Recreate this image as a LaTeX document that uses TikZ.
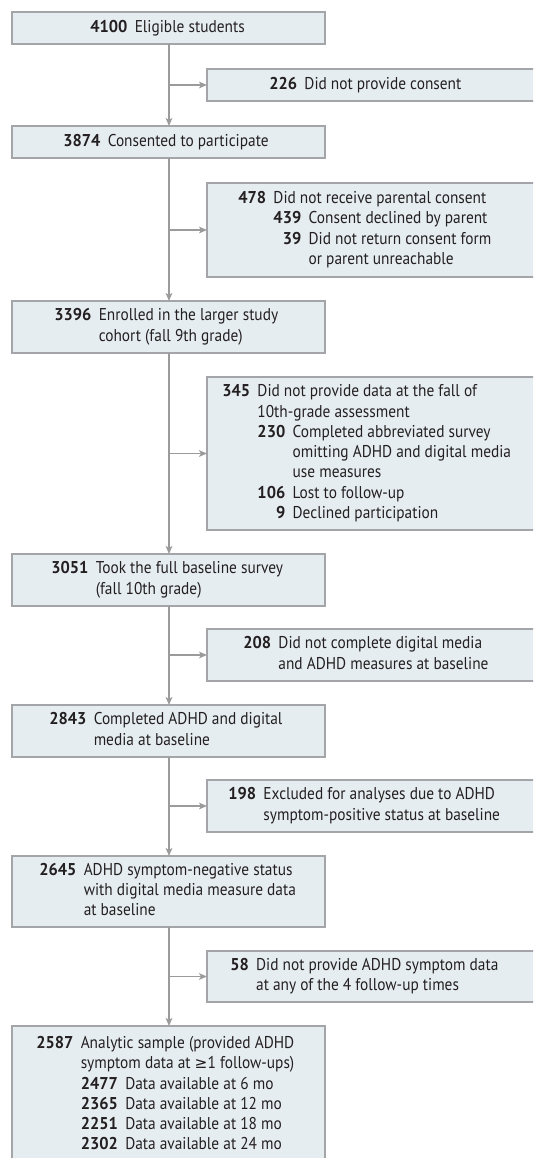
\documentclass[tikz,border=0pt]{standalone}
\usepackage{fontspec}
\setmainfont{PT Sans}[FakeStretch=0.9, BoldFeatures={FakeStretch=0.96}]
\newfontfamily\symfont{DejaVu Sans}[Scale=0.9]
\usetikzlibrary{arrows.meta}
\definecolor{boxfill}{HTML}{E6EDF1}
\definecolor{boxline}{HTML}{A3A5A8}
\definecolor{conn}{HTML}{9B9B9B}
\definecolor{ink}{HTML}{231F20}
\newcommand\bx[5]{\node[boxs, minimum width={(#4-#2)*0.75pt}, minimum height={(#5-#3)*0.75pt}] (#1) at ({(#2+#4)/2},{(#3+#5)/2}) {};}
\newcommand\tb[1]{\begin{tabular}{@{}r@{\hspace{5.5pt}}l@{}}#1\end{tabular}}
\newcommand\tbt[1]{\begin{tabular}[t]{@{}r@{\hspace{5.5pt}}l@{}}#1\end{tabular}}
\newcommand\nb[1]{\textbf{#1}}
\begin{document}
\begin{tikzpicture}[x=0.75pt,y=-0.75pt,
  boxs/.style={draw=boxline, fill=boxfill, line width=1pt, inner sep=0pt, outer sep=0pt},
  txt/.style={inner sep=0pt, anchor=west, text=ink, font=\fontsize{12.8}{15.2}\selectfont},
  flow/.style={draw=conn, line width=1.1pt, -{Stealth[length=6pt,width=5pt,inset=1.5pt]}}]
\useasboundingbox (0,0) rectangle (533,1158);
\clip (0,0) rectangle (533,1158);
% boxes
\bx{L1}{12}{12}{325}{44}
\bx{R1}{207}{69}{545}{101}
\bx{L2}{12}{126}{325}{158}
\bx{R2}{207}{183}{545}{277}
\bx{L3}{12}{301}{325}{353}
\bx{R3}{207}{377}{545}{530}
\bx{L4}{12}{554}{325}{606}
\bx{R4}{207}{629}{545}{681}
\bx{L5}{12}{705}{325}{757}
\bx{R5}{207}{780}{545}{832}
\bx{L6}{12}{856}{325}{927}
\bx{R6}{207}{951}{545}{1002}
\bx{L7}{12}{1026}{325}{1175}
% texts
\node[txt] (t1) at (90,28) {\tb{\nb{4100} & Eligible students}};
\node[txt] (t2) at (269,85) {\tb{\nb{226} & Did not provide consent}};
\node[txt] (t3) at (63,142) {\tb{\nb{3874} & Consented to participate}};
\node[txt] (t4) at (238,230) {\tb{\nb{478} & Did not receive parental consent\\
  & \tbt{\nb{439} & Consent declined by parent\\ \nb{39} & Did not return consent form\\ & or parent unreachable}}};
\node[txt] (t5) at (54,327) {\tb{\nb{3396} & Enrolled in the larger study\\ & cohort (fall 9th grade)}};
\node[txt] (t6) at (222,453.5) {\tb{\nb{345} & Did not provide data at the fall of\\ & 10th-grade assessment\\
  & \tbt{\nb{230} & Completed abbreviated survey\\ & omitting ADHD and digital media\\ & use measures\\ \nb{106} & Lost to follow-up\\ \nb{9} & Declined participation}}};
\node[txt] (t7) at (51,580) {\tb{\nb{3051} & Took the full baseline survey\\ & (fall 10th grade)}};
\node[txt] (t8) at (243,655) {\tb{\nb{208} & Did not complete digital media\\ & and ADHD measures at baseline}};
\node[txt] (t9) at (49,731) {\tb{\nb{2843} & Completed ADHD and digital\\ & media at baseline}};
\node[txt] (t10) at (228,806) {\tb{\nb{198} & Excluded for analyses due to ADHD\\ & symptom-positive status at baseline}};
\node[txt] (t11) at (39,891.5) {\tb{\nb{2645} & ADHD symptom-negative status\\ & with digital media measure data\\ & at baseline}};
\node[txt] (t12) at (230,976.5) {\tb{\nb{58} & Did not provide ADHD symptom data\\ & at any of the 4 follow-up times}};
\node[txt, anchor=north west] (t13) at (36,1034) {\tb{\nb{2587} & Analytic sample (provided ADHD\\ & symptom data at {\symfont ≥}1 follow-ups)\\
  & \tbt{\nb{2477} & Data available at 6 mo\\ \nb{2365} & Data available at 12 mo\\ \nb{2251} & Data available at 18 mo\\ \nb{2302} & Data available at 24 mo}}};
% trunk
\draw[flow] (L1.south -| 169,0) -- (L2.north -| 169,0);
\draw[flow] (L2.south -| 169,0) -- (L3.north -| 169,0);
\draw[flow] (L3.south -| 169,0) -- (L4.north -| 169,0);
\draw[flow] (L4.south -| 169,0) -- (L5.north -| 169,0);
\draw[flow] (L5.south -| 169,0) -- (L6.north -| 169,0);
\draw[flow] (L6.south -| 169,0) -- (L7.north -| 169,0);
% branches
\foreach \r in {R1,R2,R3,R4,R5,R6}{
  \coordinate (b\r) at (169,0 |- \r.west);
  \draw[flow] (b\r) -- (\r.west);
}
\end{tikzpicture}
\end{document}
